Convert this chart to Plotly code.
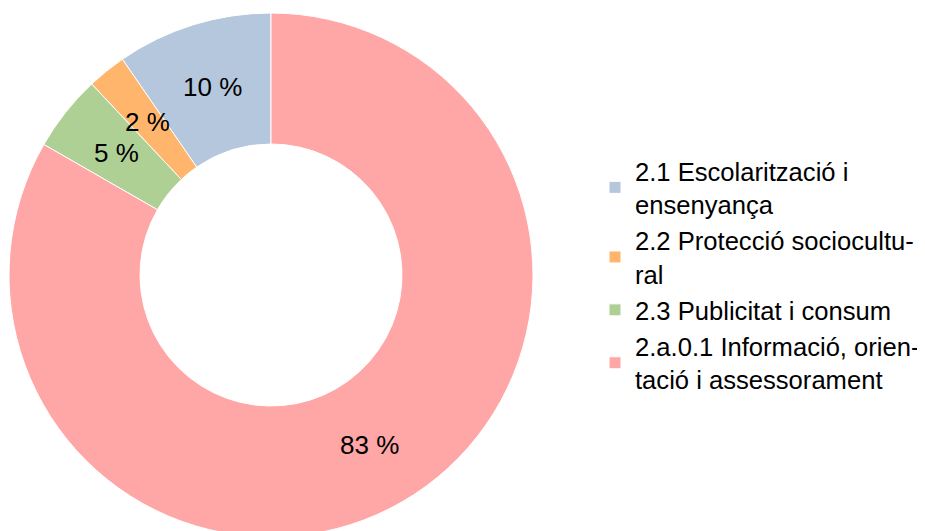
import math
import plotly.graph_objects as go

categories = [
    "2.1 Escolarització i<br>ensenyança",
    "2.2 Protecció sociocultu-<br>ral",
    "2.3 Publicitat i consum",
    "2.a.0.1 Informació, orien-<br>tació i assessorament",
]
values = [9.6, 2.4, 4.7, 83.3]
colors = ["#b4c7dc", "#ffb66c", "#afd095", "#ffa6a6"]

total = sum(values)
labels_text = [f"{round(v / total * 100)} %" for v in values]
# plotly puts the END of the first slice at `rotation` when counterclockwise;
# shift so that the first slice starts at 12 o'clock
start_rotation = -values[0] / total * 360

W, H = 925, 531
dom_x = [1 / W, 525 / W]
dom_y = [1 - 529 / H, 1 - 5 / H]
hole = 0.5

fig = go.Figure(
    go.Pie(
        labels=categories,
        values=values,
        textinfo="none",
        hole=hole,
        sort=False,
        direction="counterclockwise",
        rotation=start_rotation,
        marker=dict(colors=colors, line=dict(color="white", width=1)),
        domain=dict(x=dom_x, y=dom_y),
        hoverinfo="label+percent",
    )
)

# data labels at the middle of each ring segment (derived from the values)
cx_px = (dom_x[0] + dom_x[1]) / 2 * W
cy_px = (1 - (dom_y[0] + dom_y[1]) / 2) * H
r_px = min((dom_x[1] - dom_x[0]) * W, (dom_y[1] - dom_y[0]) * H) / 2
r_mid = r_px * (1 + hole) / 2
cum = 0.0
for v, t in zip(values, labels_text):
    mid = (cum + v / 2) / total * 2 * math.pi
    cum += v
    x_px = cx_px - r_mid * math.sin(mid)
    y_px = cy_px - r_mid * math.cos(mid)
    fig.add_annotation(
        x=x_px / W, y=1 - y_px / H, xref="paper", yref="paper",
        text=t, showarrow=False, xanchor="center", yanchor="middle",
        font=dict(family="Liberation Sans", size=26, color="black"),
    )

fig.update_layout(
    width=W,
    height=H,
    margin=dict(l=0, r=0, t=0, b=0),
    paper_bgcolor="white",
    plot_bgcolor="white",
    font=dict(family="Liberation Sans", size=26, color="black"),
    legend=dict(
        x=587 / W,
        xanchor="left",
        y=0.497,
        yanchor="middle",
        font=dict(family="Liberation Sans", size=25.6, color="black"),
        bgcolor="rgba(0,0,0,0)",
        itemclick=False,
    ),
    showlegend=True,
)

fig.write_html("out.html")
